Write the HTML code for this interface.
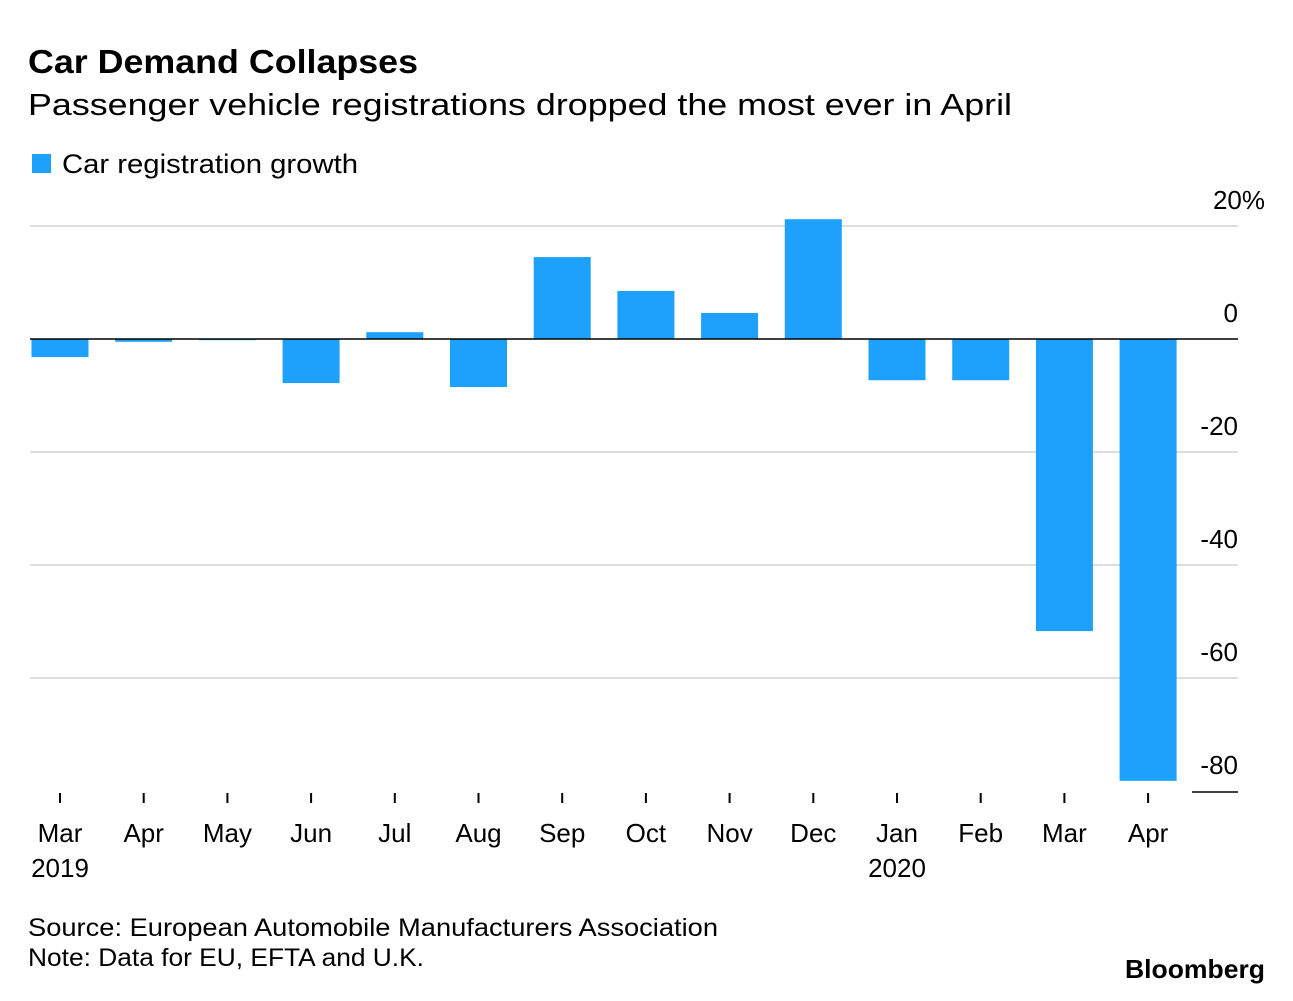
<!DOCTYPE html>
<html><head><meta charset="utf-8"><style>
body{margin:0;background:#fff;width:1293px;height:996px;overflow:hidden;font-family:"Liberation Sans",sans-serif;color:#000}
</style></head><body>
<svg width="1293" height="996" xmlns="http://www.w3.org/2000/svg" font-family="Liberation Sans, sans-serif">
<text x="28" y="73" font-size="33" font-weight="bold" textLength="390" lengthAdjust="spacingAndGlyphs">Car Demand Collapses</text>
<text x="28" y="115" font-size="31" textLength="984" lengthAdjust="spacingAndGlyphs">Passenger vehicle registrations dropped the most ever in April</text>
<rect x="32" y="154" width="19" height="19" fill="#1da1fc"/>
<text x="62" y="173" font-size="27" textLength="296" lengthAdjust="spacingAndGlyphs">Car registration growth</text>
<g id="grid"></g><g id="bars"></g><g id="axis"></g>
<text x="28" y="936" font-size="25" textLength="690" lengthAdjust="spacingAndGlyphs">Source: European Automobile Manufacturers Association</text>
<text x="28" y="966" font-size="25" textLength="396" lengthAdjust="spacingAndGlyphs">Note: Data for EU, EFTA and U.K.</text>
<text x="1125" y="978" font-size="26" font-weight="bold" textLength="140" lengthAdjust="spacingAndGlyphs">Bloomberg</text>
</svg>
<script>
const categories=["Mar","Apr","May","Jun","Jul","Aug","Sep","Oct","Nov","Dec","Jan","Feb","Mar","Apr"];
const yearLabels=["2019","","","","","","","","","","2020","","",""];
const values=[-3.2,-0.5,-0.2,-7.8,1.2,-8.5,14.5,8.5,4.6,21.2,-7.3,-7.3,-51.7,-78.2];
const yTicks=[20,0,-20,-40,-60,-80];
const yTickLabels=["20%","0","-20","-40","-60","-80"];
const NS="http://www.w3.org/2000/svg";
const y=v=>339-v*5.65;
const x=i=>60+i*83.7;
function mk(t,a,p){const e=document.createElementNS(NS,t);for(const k in a)e.setAttribute(k,a[k]);p.appendChild(e);return e;}
const grid=document.getElementById('grid'),bars=document.getElementById('bars'),axis=document.getElementById('axis');
yTicks.forEach((v,i)=>{
  if(v!==0&&v!==-80){const l=mk('line',{x1:30,x2:1238,y1:y(v),y2:y(v),stroke:'#ddd','stroke-width':2},grid);
  
  }
  if(v===-80){const l=mk('line',{x1:1192,x2:1238,y1:y(v)+1,y2:y(v)+1,stroke:'#000','stroke-width':1.5},grid);
  
  }
  const lbl=yTickLabels[i];
  const t=mk('text',{x:lbl.endsWith('%')?1265:1238,y:y(v)-17,'font-size':26,'text-anchor':'end'},axis);t.textContent=lbl;
  
  
});
values.forEach((v,i)=>{
  const r=mk('rect',{x:x(i)-28.5,width:57,y:Math.min(y(v),y(0)),height:Math.abs(y(v)-y(0)),fill:'#1da1fc'},bars);
  
  
  const tk=mk('line',{x1:x(i),x2:x(i),y1:793,y2:803,stroke:'#000','stroke-width':2},axis);
  
  
  const t=mk('text',{x:x(i),y:842,'font-size':26,'text-anchor':'middle'},axis);t.textContent=categories[i];
  
  
  if(yearLabels[i]){const yl=mk('text',{x:x(i),y:877,'font-size':26,'text-anchor':'middle'},axis);yl.textContent=yearLabels[i];
  
  }
});
const z=mk('line',{x1:30,x2:1238,y1:y(0),y2:y(0),stroke:'#000','stroke-width':1.5},axis);


</script>
</body></html>
